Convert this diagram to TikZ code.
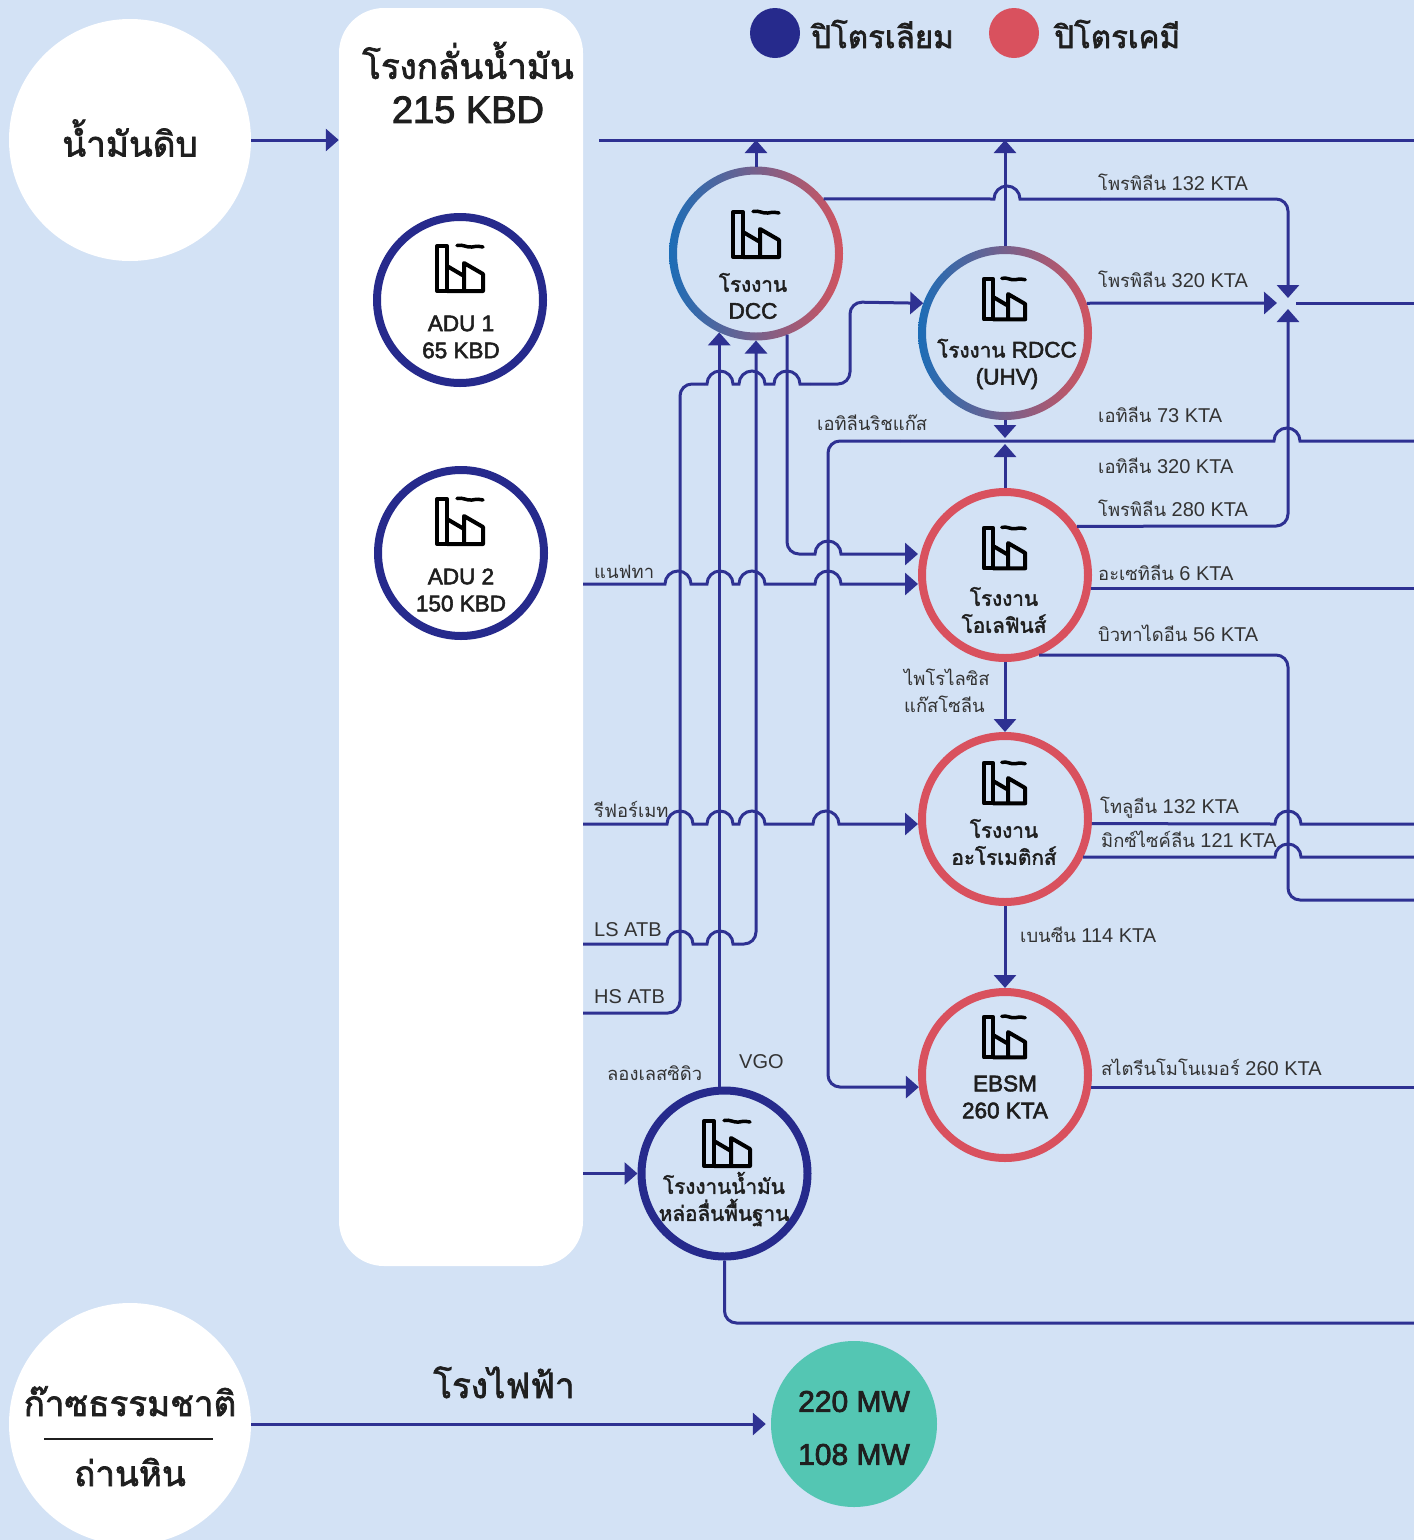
\documentclass[tikz,border=0pt]{standalone}
\usepackage{fontspec}
\setmainfont{Liberation Sans}
\newfontfamily\thaifont[Script=Thai,Scale=0.92]{Loma}
\newfontfamily\thaimed[Script=Thai,Scale=0.92,FakeBold=2]{Loma}
\newfontfamily\latinmed[FakeBold=2.5]{Liberation Sans}
\usetikzlibrary{arrows.meta}
\definecolor{pagebg}{HTML}{D3E2F5}
\definecolor{linkblue}{HTML}{2E3192}
\definecolor{navyring}{HTML}{262A8C}
\definecolor{redring}{HTML}{D9515E}
\definecolor{gradblue}{HTML}{1C6DB7}
\definecolor{gradred}{HTML}{D2545F}
\definecolor{powergreen}{HTML}{54C6B3}
\definecolor{inkgrey}{HTML}{333333}
\definecolor{inkdark}{HTML}{1F1F1F}
\newcommand{\thai}[1]{{\thaifont #1}}
\newcommand{\thaim}[1]{{\thaimed #1}}
\newcommand{\hop}[2]{-- (#1-13,#2) arc[start angle=180,end angle=360,radius=13]}
\tikzset{
	flow/.style={draw=linkblue,line width=3pt},
	tipped/.style={-{Triangle[length=13pt,width=22pt]}},
	bent/.style={flow,rounded corners=12pt},
	plantbase/.style={circle,minimum size=166pt,inner sep=0pt,line width=8pt},
	plantnavy/.style={plantbase,draw=navyring},
	plantred/.style={plantbase,draw=redring},
	plantgrad/.style={plantbase},
	gradring/.style={left color=gradblue,right color=gradred,even odd rule},
	sourcedisc/.style={circle,fill=white,minimum size=242pt,inner sep=0pt},
	flowlabel/.style={anchor=base west,inner sep=0pt,text=inkgrey,font=\fontsize{20}{26}\selectfont},
	plantlabel/.style={align=center,inner sep=0pt,text=inkdark,font=\fontsize{22.5}{27}\selectfont\latinmed},
	biglabel/.style={align=center,inner sep=0pt,text=inkdark,font=\fontsize{38}{44}\selectfont\latinmed},
	factory/.pic={
		\draw [line width=4pt,line join=round] (2,2) rectangle (12,47);
		\draw [line width=4pt,line join=round] (12,47) -- (48,47) -- (48,30) -- (29,19) -- (29,47);
		\draw [line width=4pt,line join=round] (12,22) -- (29,32);
		\draw [line width=3.5pt,line cap=round] (22,1.5) .. controls (28,0) and (32,4) .. (37,3) .. controls (42,2) and (45,2) .. (48,3);
	}
}
\begin{document}
\begin{tikzpicture}[x=1pt,y=-1pt]
	\fill [pagebg] (0,0) rectangle (1414,1540);
	\useasboundingbox (0,0) rectangle (1414,1540);

	\node (crude) [sourcedisc] at (130,140) {};
	\node (gas) [sourcedisc] at (130,1424) {};
	\node (refinery) [fill=white,rounded corners=45pt,minimum width=244pt,minimum height=1258pt,inner sep=0pt] at (461,637) {};
	\node (power) [circle,fill=powergreen,minimum size=166pt,inner sep=0pt] at (854,1424) {};
	\node (legendpetro) [circle,fill=navyring,minimum size=50pt,inner sep=0pt] at (775,33) {};
	\node (legendchem) [circle,fill=redring,minimum size=50pt,inner sep=0pt] at (1014,33) {};

	\node (adua) [plantnavy] at (460,300) {};
	\node (adub) [plantnavy] at (461,553) {};
	\node (dcc) [plantgrad] at (756,253.5) {};
	\node (rdcc) [plantgrad] at (1005,333) {};
	\node (olefins) [plantred] at (1005,575) {};
	\node (aromatics) [plantred] at (1005,819) {};
	\node (ebsm) [plantred] at (1005,1075) {};
	\node (baseoil) [plantnavy] at (724.5,1173.5) {};
	\path [gradring] (dcc.center) circle [radius=87] (dcc.center) circle [radius=79];
	\path [gradring] (rdcc.center) circle [radius=87] (rdcc.center) circle [radius=79];

	\coordinate (edge) at (1414,0);
	\coordinate (topstart) at (599,140);
	\coordinate (mix) at (1288,303);
	\coordinate (naphtha) at (583,584);
	\coordinate (reformate) at (583,824);
	\coordinate (lsatb) at (583,944);
	\coordinate (hsatb) at (583,1013);
	\coordinate (basefeed) at (583,1173.5);

	\draw [flow,tipped] (crude.east) -- (refinery.west |- crude.east);
	\draw [flow] (topstart) -- (edge |- topstart);
	\draw [flow,tipped] (dcc.north) -- (dcc.north |- topstart);
	\draw [flow,tipped] (rdcc.north) -- (rdcc.north |- topstart);
	\draw [flow] (dcc.39) \hop{1007}{199} -- (1100,199);
	\draw [bent,tipped] (1100,199) -- (1288,199) -- (1288,298);
	\draw [flow,tipped] (rdcc.20) -- (1277,303);
	\draw [flow] (1296,303) -- (edge |- mix);
	\draw [bent,tipped] (olefins.34) -- (1288,526) -- (1288,309);
	\draw [flow,tipped] (rdcc.south) -- (1005,438);
	\draw [flow,tipped] (olefins.north) -- (1005,444);
	\draw [flow] (edge |- 0,441) -- (1300,441) arc [start angle=360,end angle=180,radius=13] -- (900,441);
	\draw [bent,tipped] (900,441) -- (828,441) -- (828,1087) -- (ebsm.188);
	\draw [flow,tipped] (naphtha) \hop{678}{584} \hop{720}{584} \hop{752}{584} \hop{828}{584} -- (olefins.west |- naphtha);
	\draw [bent] (dcc.-69) -- (787,554) -- (812,554);
	\draw [flow,tipped] (812,554) \hop{828}{554} -- (olefins.west |- 0,554);
	\draw [flow,tipped] (reformate) \hop{680}{824} \hop{720}{824} \hop{752}{824} \hop{826}{824} -- (aromatics.west |- reformate);
	\draw [flow] (lsatb) \hop{680}{944} \hop{720}{944} -- (738,944);
	\draw [bent,tipped] (738,944) -- (756,944) -- (dcc.south);
	\draw [bent] (hsatb) -- (680,1013) -- (680,384) -- (704,384);
	\draw [flow] (704,384) \hop{720}{384} \hop{752}{384} \hop{787}{384} -- (810,384);
	\draw [bent,tipped] (810,384) -- (850,384) -- (850,302) -- (rdcc.160);
	\draw [flow,tipped] (baseoil.north -| dcc.245) -- (dcc.245);
	\draw [flow,tipped] (basefeed) -- (baseoil.west);
	\draw [bent] (baseoil.south) -- (724.5,1323) -- (edge |- 0,1323);
	\draw [flow] (olefins.-9) -- (edge |- olefins.-9);
	\draw [bent] (olefins.-67) -- (1288,655) -- (1288,900) -- (edge |- 0,900);
	\draw [flow,tipped] (olefins.south) -- (aromatics.north);
	\draw [flow,tipped] (aromatics.south) -- (ebsm.north);
	\draw [flow] (aromatics.-3) \hop{1288}{824} -- (edge |- 0,824);
	\draw [flow] (aromatics.-26) \hop{1288}{857} -- (edge |- 0,857);
	\draw [flow] (ebsm.-8) -- (edge |- ebsm.-8);
	\draw [flow,tipped,shorten >=5pt] (gas.east) -- (power.west);
	\draw [line width=2pt,draw=inkdark] (44,1439) -- (213,1439);

	\pic at (435,244) {factory};
	\pic at (435,497) {factory};
	\pic at (731,210) {factory};
	\pic [scale=.9] at (982,277) {factory};
	\pic [scale=.9] at (982,526) {factory};
	\pic [scale=.9] at (982,761) {factory};
	\pic [scale=.9] at (982,1015) {factory};
	\pic at (702,1119) {factory};

	\node (crudetext) [biglabel] at (130,138) {\thaimed น้ำมันดิบ};
	\node (refinerytext) [biglabel] at (468,82.5) {\thaimed โรงกลั่นน้ำมัน\\215 KBD};
	\node (legendpetrotext) [biglabel,anchor=base west,font=\fontsize{34}{44}\selectfont] at (811,48) {\thaimed ปิโตรเลียม};
	\node (legendchemtext) [biglabel,anchor=base west,font=\fontsize{34}{44}\selectfont] at (1054,48) {\thaimed ปิโตรเคมี};
	\node (gastext) [biglabel,anchor=base] at (130,1416) {\thaimed ก๊าซธรรมชาติ};
	\node (coaltext) [biglabel,anchor=base] at (130,1486) {\thaimed ถ่านหิน};
	\node (powertext) [biglabel,anchor=base] at (504,1398) {\thaimed โรงไฟฟ้า};
	\node (mwtext) [align=center,inner sep=0pt,text=inkdark,font=\fontsize{30}{53}\selectfont\latinmed] at (854,1428) {220 MW\\108 MW};

	\node (aduatext) [plantlabel] at (461,337) {ADU 1\\65 KBD};
	\node (adubtext) [plantlabel] at (461,590) {ADU 2\\150 KBD};
	\node (dcctext) [plantlabel] at (753,296) {\thaim{โรงงาน}\\DCC};
	\node (rdcctext) [plantlabel] at (1007,364) {\thaim{โรงงาน} RDCC\\(UHV)};
	\node (olefinstext) [plantlabel] at (1004,610) {\thaim{โรงงาน}\\\thaim{โอเลฟินส์}};
	\node (aromaticstext) [plantlabel] at (1004,842) {\thaim{โรงงาน}\\\thaim{อะโรเมติกส์}};
	\node (ebsmtext) [plantlabel] at (1005,1097) {EBSM\\260 KTA};
	\node (baseoiltext) [plantlabel] at (724,1199) {\thaim{โรงงานน้ำมัน}\\\thaim{หล่อลื่นพื้นฐาน}};

	\node (propa) [flowlabel] at (1098,190) {\thai{โพรพิลีน} 132 KTA};
	\node (propb) [flowlabel] at (1098,287) {\thai{โพรพิลีน} 320 KTA};
	\node (etha) [flowlabel] at (1098,422) {\thai{เอทิลีน} 73 KTA};
	\node (ethb) [flowlabel] at (1098,473) {\thai{เอทิลีน} 320 KTA};
	\node (propc) [flowlabel] at (1098,516) {\thai{โพรพิลีน} 280 KTA};
	\node (acet) [flowlabel] at (1098,580) {\thai{อะเซทิลีน} 6 KTA};
	\node (buta) [flowlabel] at (1098,641) {\thai{บิวทาไดอีน} 56 KTA};
	\node (tolu) [flowlabel] at (1100,813) {\thai{โทลูอีน} 132 KTA};
	\node (xyle) [flowlabel] at (1101,847) {\thai{มิกซ์ไซค์ลีน} 121 KTA};
	\node (benz) [flowlabel] at (1020,942) {\thai{เบนซีน} 114 KTA};
	\node (styr) [flowlabel] at (1101,1075) {\thai{สไตรีนโมโนเมอร์} 260 KTA};
	\node (richgas) [flowlabel] at (817,430) {\thai{เอทิลีนริชแก๊ส}};
	\node (naphthatext) [flowlabel] at (594,578) {\thai{แนฟทา}};
	\node (reformtext) [flowlabel] at (594,817) {\thai{รีฟอร์เมท}};
	\node (lstext) [flowlabel] at (594,936) {LS ATB};
	\node (hstext) [flowlabel] at (594,1003) {HS ATB};
	\node (residue) [flowlabel] at (607,1080) {\thai{ลองเลสซิดิว}};
	\node (vgo) [flowlabel] at (739,1068) {VGO};
	\node (pyroa) [flowlabel] at (904,685) {\thai{ไพโรไลซิส}};
	\node (pyrob) [flowlabel] at (904,712) {\thai{แก๊สโซลีน}};
\end{tikzpicture}
\end{document}
